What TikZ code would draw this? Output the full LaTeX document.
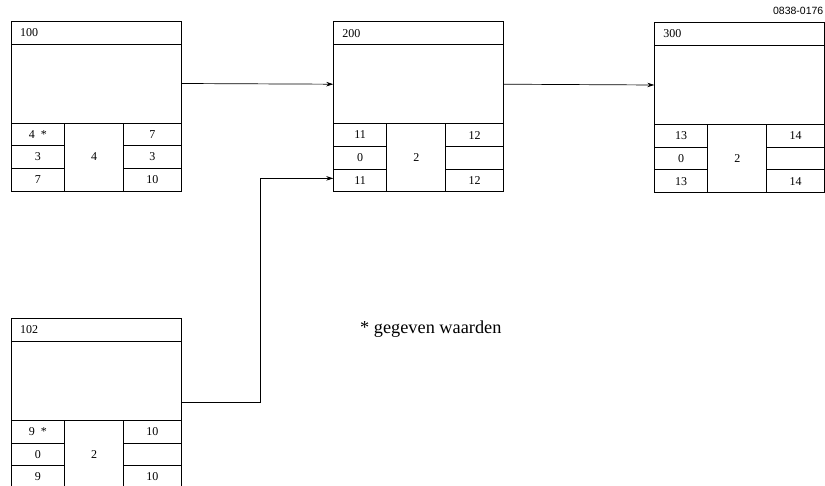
\documentclass[tikz,border=0pt]{standalone}
\usepackage{fontspec}
\setmainfont{Liberation Serif}
\newfontfamily\codefont{Liberation Sans}
\usetikzlibrary{arrows.meta}

\tikzset{
  frame/.style={draw, line width=0.8pt, inner sep=0pt, outer sep=0pt,
                anchor=north west, font=\fontsize{12}{14}\selectfont},
  headbox/.style={frame, minimum width=170pt, minimum height=23pt,
                  text width=152pt, inner xsep=9pt, align=left},
  bodybox/.style={frame, minimum width=170pt, minimum height=79pt},
  cellL/.style={frame, minimum width=53.5pt, minimum height=22.67pt},
  cellM/.style={frame, minimum width=59pt, minimum height=68pt},
  cellR/.style={frame, minimum width=57.5pt, minimum height=22.67pt},
  link/.style={line width=0.7pt, -{Stealth[length=7pt,width=4.5pt]}},
}

% #1 anchor coordinate, #2 number, #3-#5 left column, #6 duration, #7-#9 right column
\newcommand\activitybox[9]{%
  \node[headbox] (#1-head) at (#1) {#2};
  \node[bodybox] (#1-body) at (#1-head.south west) {};
  \node[cellL] (#1-l1) at (#1-body.south west) {#3};
  \node[cellL] (#1-l2) at (#1-l1.south west) {#4};
  \node[cellL] (#1-l3) at (#1-l2.south west) {#5};
  \node[cellM] (#1-m)  at (#1-l1.north east) {#6};
  \node[cellR] (#1-r1) at (#1-m.north east) {#7};
  \node[cellR] (#1-r2) at (#1-r1.south west) {#8};
  \node[cellR] (#1-r3) at (#1-r2.south west) {#9};
}

\begin{document}
\begin{tikzpicture}[x=1pt, y=-1pt]
  \useasboundingbox (0,0) rectangle (825,486);

  \coordinate (a100) at (11,21);
  \coordinate (a200) at (333.3,21.7);
  \coordinate (a300) at (654.3,22.5);
  \coordinate (a102) at (11,318.3);

  \activitybox{a100}{100}{4~~*}{3}{7}{4}{7}{3}{10}
  \activitybox{a200}{200}{11}{0}{11}{2}{12}{}{12}
  \activitybox{a300}{300}{13}{0}{13}{2}{14}{}{14}
  \activitybox{a102}{102}{9~~*}{0}{9}{2}{10}{}{10}

  % dependencies
  \draw[link] (a100-body.east) -- (a200-body.west);
  \draw[link] (a200-body.east) -- (a300-body.west);
  \coordinate (c102out) at ([yshift=-22pt]a102-body.east);
  \coordinate (c200in) at ([yshift=2pt]a200-l3.west);
  \draw[link] (c102out) -| ([xshift=-73pt]c200in) -- (c200in);

  % legend and drawing code
  \node[anchor=base west, inner sep=0pt, font=\fontsize{18.3}{21}\selectfont]
    (note) at (360,334) {* gegeven waarden};
  \node[anchor=base east, inner sep=0pt, font=\codefont\fontsize{10.5}{12}\selectfont]
    (code) at (823.5,15) {0838-0176};
\end{tikzpicture}
\end{document}
